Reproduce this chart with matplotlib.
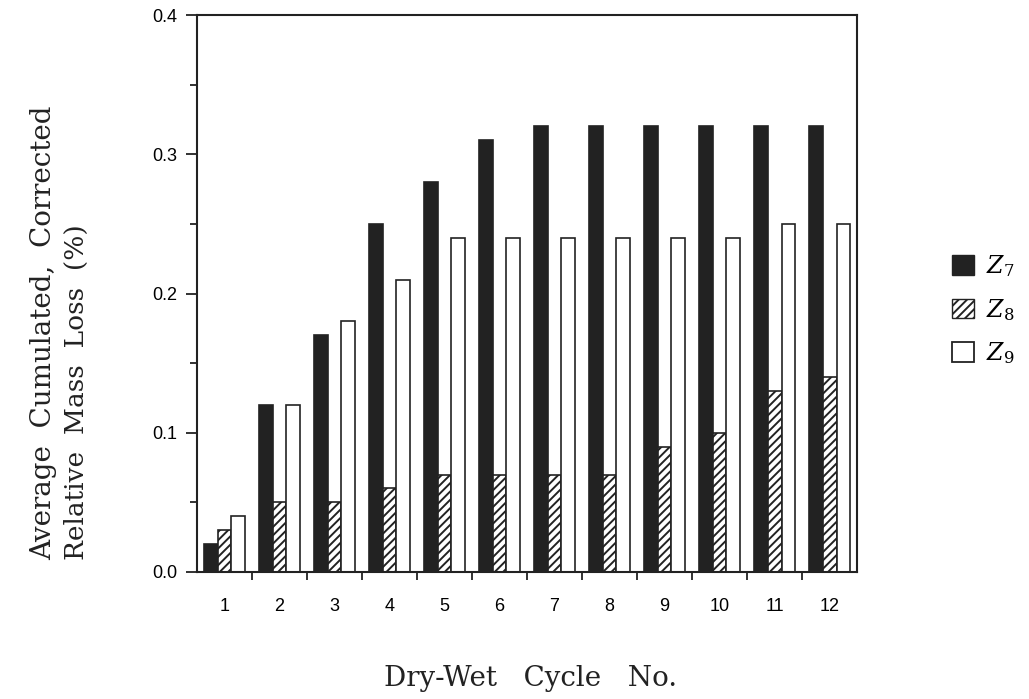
import numpy as np
import matplotlib.pyplot as plt
from matplotlib.patches import Patch

cycles = np.arange(1, 13)
z7 = [0.02, 0.12, 0.17, 0.25, 0.28, 0.31, 0.32, 0.32, 0.32, 0.32, 0.32, 0.32]
z8 = [0.03, 0.05, 0.05, 0.06, 0.07, 0.07, 0.07, 0.07, 0.09, 0.10, 0.13, 0.14]
z9 = [0.04, 0.12, 0.18, 0.21, 0.24, 0.24, 0.24, 0.24, 0.24, 0.24, 0.25, 0.25]
series_names = [r"$Z_7$", r"$Z_8$", r"$Z_9$"]

plt.rcParams['hatch.linewidth'] = 1.4
plt.rcParams['mathtext.fontset'] = 'dejavuserif'
ink = '#222222'

fig = plt.figure(figsize=(10.29, 6.99), dpi=100)
ax = fig.add_axes([0.1914, 0.1817, 0.6416, 0.7968])

w = 0.25
ax.bar(cycles - w, z7, width=w, color=ink, edgecolor=ink, linewidth=1.2)
ax.bar(cycles, z8, width=w, color='white', edgecolor=ink, linewidth=1.2, hatch='////')
ax.bar(cycles + w, z9, width=w, color='white', edgecolor=ink, linewidth=1.2)

ax.set_xlim(0.5, 12.5)
ax.set_ylim(0, 0.4)

# x: labels at groups, ticks only between groups
ax.set_xticks(cycles)
ax.set_xticklabels([str(c) for c in cycles], fontsize=13, family='Liberation Sans')
ax.set_xticks(np.arange(1.5, 12.5, 1), minor=True)
ax.tick_params(axis='x', which='major', length=0, pad=19)
ax.tick_params(axis='x', which='minor', length=6, width=1.3, direction='out', color=ink)

ax.set_yticks(np.arange(0, 0.41, 0.1))
ax.set_yticklabels(['0.0', '0.1', '0.2', '0.3', '0.4'], fontsize=13, family='Liberation Sans')
ax.set_yticks(np.arange(0.05, 0.4, 0.1), minor=True)
ax.tick_params(axis='y', which='major', length=8, width=1.3, direction='out', color=ink, pad=6)
ax.tick_params(axis='y', which='minor', length=5, width=1.3, direction='out', color=ink)

for s in ax.spines.values():
    s.set_linewidth(1.5)
    s.set_color(ink)

fig.text(0.042, 0.199, "Average  Cumulated,  Corrected", rotation=90,
         ha='center', va='bottom', fontsize=20, family='DejaVu Serif', color=ink)
fig.text(0.074, 0.199, "Relative  Mass  Loss  (%)", rotation=90,
         ha='center', va='bottom', fontsize=19, family='DejaVu Serif', color=ink)
fig.text(0.516, 0.030, "Dry-Wet   Cycle   No.", ha='center', va='center',
         fontsize=20, family='DejaVu Serif', color=ink)

handles = [Patch(facecolor=ink, edgecolor=ink),
           Patch(facecolor='white', edgecolor=ink, hatch='////'),
           Patch(facecolor='white', edgecolor=ink, linewidth=1.3)]
fig.legend(handles, series_names, loc='center left', bbox_to_anchor=(0.905, 0.557),
           frameon=False, fontsize=17, handlelength=0.9, handleheight=0.9,
           handletextpad=0.5, labelspacing=0.75)

fig.savefig('out.png', dpi=100)
